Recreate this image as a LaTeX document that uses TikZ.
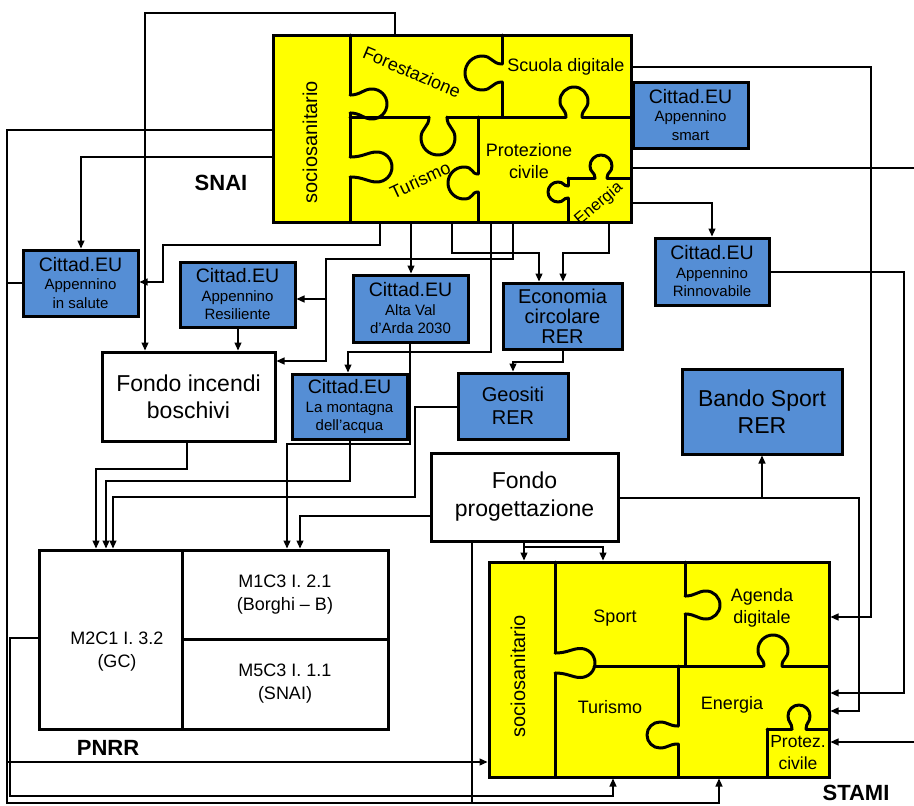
\documentclass[tikz,border=0pt]{standalone}
\usepackage{fontspec}
\setmainfont{Liberation Sans}
\usetikzlibrary{arrows.meta}
\definecolor{eublue}{RGB}{85,142,213}
\definecolor{pzyellow}{RGB}{255,255,0}
\newcommand\fs[2]{\fontsize{#1}{#2}\selectfont}
\newcommand\cit[2]{{\fs{19.5}{21}Cittad.EU}\\#1\\#2}
% knob: x, y, rotation (0 down,90 right,180 up,270 left), neck half-width, head half-width, height
\newcommand\knob[6]{%
\begin{scope}[shift={(#1,#2)},rotate=#3]
\draw[pz] (-#4,0) .. controls (-#4,{0.5*(#6-#5)}) and (-#5,{#6-1.6*#5}) .. (-#5,{#6-#5})
 .. controls (-#5,{#6-0.448*#5}) and ({-0.552*#5},#6) .. (0,#6)
 .. controls ({0.552*#5},#6) and (#5,{#6-0.448*#5}) .. (#5,{#6-#5})
 .. controls (#5,{#6-1.6*#5}) and (#4,{0.5*(#6-#5)}) .. (#4,0);
\end{scope}}
\begin{document}
\begin{tikzpicture}[x=1pt,y=-1pt,
  bx/.style={draw,line width=3pt,inner sep=0pt,align=center},
  bluebox/.style={bx,fill=eublue},
  citbox/.style={bluebox,font=\fs{15}{18.5}},
  whitebox/.style={bx,fill=white},
  puzzle/.style={bx,fill=pzyellow},
  pz/.style={line width=3pt,line cap=round,line join=round},
  conn/.style={line width=1.2pt},
  arr/.style={conn,-{Triangle[length=8pt,width=7pt]}},
  lbl/.style={inner sep=0pt,align=center},
  big/.style={font=\bfseries\fs{22}{26}}]
\useasboundingbox (0,0) rectangle (914,806);
\fill[white] (0,0) rectangle (914,806);

% ---------- SNAI puzzle ----------
\node[puzzle,minimum width=358,minimum height=187] (snai) at (452,128.5) {};
\draw[pz] (350,35) -- (350,95);
\knob{350}{104}{90}{9}{15}{37}
\draw[pz] (350,113) -- (350,157);
\knob{350}{167}{90}{10}{15}{42}
\draw[pz] (350,177) -- (350,222);
\draw[pz] (350,117) -- (429,117);
\knob{438}{117}{0}{9}{17}{38}
\draw[pz] (447,117) -- (566,117);
\knob{574}{117}{180}{8}{14}{30}
\draw[pz] (582,117) -- (631,117);
\draw[pz] (502,35) -- (502,64);
\knob{502}{73}{270}{9}{17}{37}
\draw[pz] (502,82) -- (502,117);
\draw[pz] (478,117) -- (478,174);
\knob{478}{183}{270}{9}{16}{30}
\draw[pz] (478,192) -- (478,222);
\draw[pz] (568,178) -- (568,186);
\knob{568}{192}{270}{6}{10}{20}
\draw[pz] (568,198) -- (568,222);
\draw[pz] (568,178) -- (595,178);
\knob{601}{178}{180}{6}{11}{23}
\draw[pz] (607,178) -- (631,178);
\node[puzzle,fill=none,minimum width=358,minimum height=187] at (452,128.5) {};

\node[lbl,rotate=90,font=\fs{20}{24}] (snaisoc) at (310,142) {sociosanitario};
\node[lbl,rotate=-23,font=\fs{18}{22}] (snaifor) at (412,72) {Forestazione};
\node[lbl,font=\fs{18}{22}] (snaisc) at (566,67) {Scuola digitale};
\node[lbl,rotate=25,font=\fs{18}{22}] (snaitur) at (420,180) {Turismo};
\node[lbl,font=\fs{18}{22}] (snaipro) at (529,161) {Protezione\\civile};
\node[lbl,rotate=40,font=\fs{16.5}{20}] (snaien) at (599,204) {Energia};
\node[lbl,big] (snailab) at (221,183) {SNAI};

% ---------- STAMI puzzle ----------
\node[puzzle,minimum width=340,minimum height=215] (stami) at (659,669.5) {};
\draw[pz] (555,562) -- (555,653);
\knob{555}{663}{90}{10}{14.5}{40}
\draw[pz] (555,673) -- (555,777);
\draw[pz] (594,666) -- (763,666);
\knob{773}{666}{180}{9}{15}{31}
\draw[pz] (782,666) -- (829,666);
\draw[pz] (685,562) -- (685,596);
\knob{685}{605}{90}{9}{14}{35}
\draw[pz] (685,614) -- (685,666);
\draw[pz] (678,666) -- (678,726);
\knob{678}{735}{270}{9}{13}{31}
\draw[pz] (678,744) -- (678,777);
\draw[pz] (767,729) -- (767,777);
\draw[pz] (767,729) -- (792,729);
\knob{799}{729}{180}{7}{11}{24}
\draw[pz] (806,729) -- (829,729);
\node[puzzle,fill=none,minimum width=340,minimum height=215] at (659,669.5) {};

\node[lbl,rotate=90,font=\fs{20}{24}] (stsoc) at (518,676) {sociosanitario};
\node[lbl,font=\fs{18}{22}] (stsport) at (615,618) {Sport};
\node[lbl,font=\fs{18}{22}] (stag) at (762,608) {Agenda\\digitale};
\node[lbl,font=\fs{18}{22}] (sttur) at (610,707) {Turismo};
\node[lbl,font=\fs{18}{22}] (sten) at (732,705) {Energia};
\node[lbl,font=\fs{17.5}{22}] (stpro) at (798,753) {Protez.\\civile};
\node[lbl,big] (stlab) at (856,793) {STAMI};

% ---------- PNRR ----------
\node[whitebox,minimum width=143,minimum height=179] (m2c1) at (110.5,639.5) {};
\node[whitebox,minimum width=206,minimum height=89,font=\fs{18}{23}] (m1c3) at (285,594.5) {M1C3 I. 2.1\\(Borghi – B)};
\node[whitebox,minimum width=206,minimum height=90,font=\fs{18}{23}] (m5c3) at (285,684) {M5C3 I. 1.1\\(SNAI)};
\node[lbl,font=\fs{18}{23}] (m2c1t) at (117,652) {M2C1 I. 3.2\\(GC)};
\node[lbl,big] (pnrrlab) at (108,748) {PNRR};

% ---------- boxes ----------
\node[citbox,minimum width=115,minimum height=66] (salute) at (80.5,283) {\cit{Appennino}{in salute}};
\node[citbox,minimum width=115,minimum height=65] (resil) at (237.5,294.5) {\cit{Appennino}{Resiliente}};
\node[citbox,minimum width=115,minimum height=67] (alta) at (410.5,308.5) {\cit{Alta Val}{d’Arda 2030}};
\node[citbox,minimum width=115,minimum height=65] (mont) at (349.5,406.5) {\cit{La montagna}{dell’acqua}};
\node[citbox,minimum width=115,minimum height=66] (smart) at (690.5,115) {\cit{Appennino}{smart}};
\node[citbox,minimum width=114,minimum height=67] (rinn) at (712,271.5) {\cit{Appennino}{Rinnovabile}};
\node[bluebox,minimum width=119,minimum height=66,font=\fs{20}{20}] (econ) at (562.5,316) {Economia\\circolare\\RER};
\node[bluebox,minimum width=110,minimum height=66,font=\fs{20}{23}] (geos) at (513,406) {Geositi\\RER};
\node[bluebox,minimum width=160,minimum height=85,font=\fs{23}{27}] (bando) at (762,411.5) {Bando Sport\\RER};
\node[whitebox,minimum width=173,minimum height=89,font=\fs{23}{27}] (fincend) at (188.5,396.5) {Fondo incendi\\boschivi};
\node[whitebox,minimum width=187,minimum height=88,font=\fs{23}{28}] (fprog) at (524.5,497) {Fondo\\progettazione};

% ---------- connectors ----------
\draw[arr] (395,0 |- snai.north) -- (395,13) -- (145,13) -- (145,0 |- fincend.north);
\draw[arr] (snai.west |- 0,130) -- (7,130) -- (7,803) -- (719,803) -- (719,0 |- stami.south);
\draw[arr] (7,762) -- (stami.west |- 0,762);
\draw[conn] (salute.west |- 0,283) -- (7,283);
\draw[arr] (snai.west |- 0,157) -- (81,157) -- (81,0 |- salute.north);
\draw[arr] (380,0 |- snai.south) -- (380,245) -- (163,245) -- (163,282) -- (salute.east |- 0,282);
\draw[arr] (411,0 |- snai.south) -- (411,0 |- alta.north);
\draw[arr] (513,0 |- snai.south) -- (513,259) -- (326,259) -- (326,361) -- (fincend.east |- 0,361);
\draw[arr] (326,299) -- (resil.east |- 0,299);
\draw[arr] (452,0 |- snai.south) -- (452,253) -- (539,253) -- (539,0 |- econ.north);
\draw[arr] (609,0 |- snai.south) -- (609,253) -- (563,253) -- (563,0 |- econ.north);
\draw[arr] (491,0 |- snai.south) -- (491,352) -- (348,352) -- (348,0 |- mont.north);
\draw[arr] (snai.east |- 0,67) -- (871,67) -- (871,617) -- (stami.east |- 0,617);
\draw[conn] (snai.east |- 0,168) -- (914,168);
\draw[arr] (914,742) -- (stami.east |- 0,742);
\draw[arr] (snai.east |- 0,203) -- (712,203) -- (rinn.north);
\draw[arr] (rinn.east |- 0,272) -- (904,272) -- (904,693) -- (stami.east |- 0,693);
\draw[arr] (fprog.east |- 0,498) -- (859,498) -- (859,711) -- (stami.east |- 0,711);
\draw[arr] (762,498) -- (bando.south);
\draw[arr] (238,0 |- resil.south) -- (238,0 |- fincend.north);
\draw[arr] (563,0 |- econ.south) -- (563,362) -- (513,362) -- (geos.north);
\draw[arr] (187,0 |- fincend.south) -- (187,469) -- (96,469) -- (96,0 |- m2c1.north);
\draw[arr] (350,0 |- mont.south) -- (350,481) -- (106,481) -- (106,0 |- m2c1.north);
\draw[arr] (geos.west |- 0,407) -- (415,407) -- (415,497) -- (113,497) -- (113,0 |- m2c1.north);
\draw[arr] (410,0 |- alta.south) -- (410,444) -- (287,444) -- (287,0 |- m1c3.north);
\draw[arr] (fprog.west |- 0,516) -- (300,516) -- (300,0 |- m1c3.north);
\draw[arr] (524,0 |- fprog.south) -- (524,0 |- stami.north);
\draw[arr] (524,547) -- (603,547) -- (603,0 |- stami.north);
\draw[conn] (472,0 |- fprog.south) -- (472,803);
\draw[arr] (m2c1.west |- 0,638) -- (10,638) -- (10,796) -- (613,796) -- (613,0 |- stami.south);
\end{tikzpicture}
\end{document}
